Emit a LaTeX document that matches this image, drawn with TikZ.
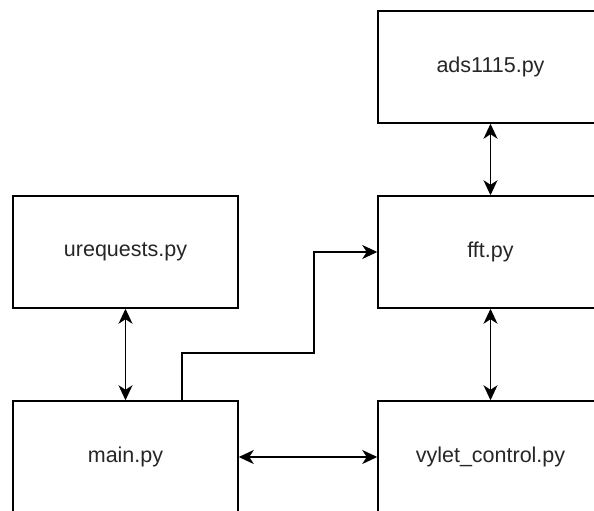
\documentclass[tikz,border=0pt]{standalone}
\usepackage{fontspec}
\setmainfont{Liberation Sans}
\usetikzlibrary{arrows.meta}
\begin{document}
\begin{tikzpicture}[x=1pt,y=-1pt,
  >={Stealth[length=15pt,width=14pt,inset=4.5pt]},
  module/.style={draw=black, line width=1.5pt, fill=white, rectangle,
    minimum width=225pt, minimum height=112pt, inner sep=0pt,
    font=\fontsize{21.5}{25}\selectfont, text=black!85},
  link/.style={draw=black, line width=1.5pt, <->},
  feed/.style={draw=black, line width=1.5pt, ->}]
  \useasboundingbox (0,0) rectangle (594,511);
  \clip (0,0) rectangle (594,511);
  \fill[white] (0,0) rectangle (594,511);

  % modules
  \node[module] (ads)   at (490.5,67)  {ads1115.py};
  \node[module] (fft)   at (490.5,252) {fft.py};
  \node[module] (ureq)  at (125.5,252) {urequests.py};
  \node[module] (main)  at (125.5,457) {main.py};
  \node[module] (vylet) at (490.5,457) {vylet\_control.py};

  % two-way links
  \draw[link] (ureq.south) -- (main.north);
  \draw[link] (ads.south) -- (fft.north);
  \draw[link] (fft.south) -- (vylet.north);
  \draw[link] (main.east) -- (vylet.west);

  % main.py feeding fft.py
  \coordinate (up) at ([xshift=56.5pt]main.north);
  \draw[feed] (up) -- (up |- 0,353) -- (314,353) -- (314,252) -- (fft.west);
\end{tikzpicture}
\end{document}
